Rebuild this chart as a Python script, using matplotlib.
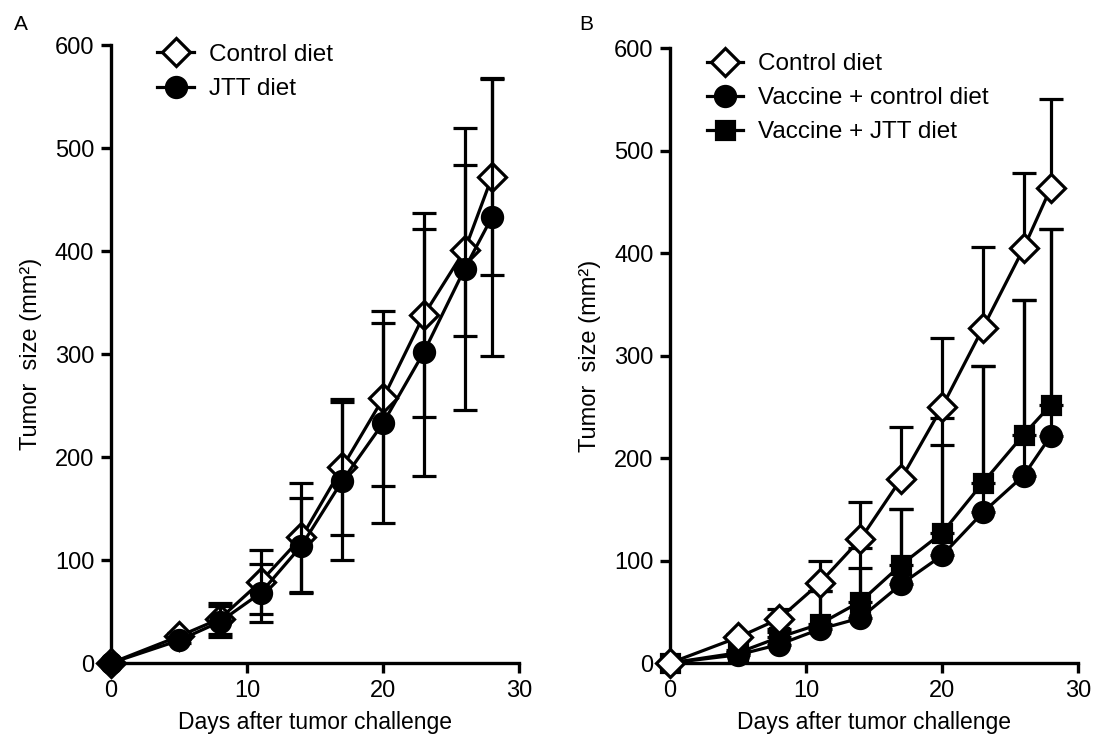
import numpy as np
import matplotlib
matplotlib.use('Agg')
import matplotlib.pyplot as plt
from matplotlib.lines import Line2D

plt.rcParams['font.family'] = ['Liberation Sans', 'DejaVu Sans']

days = [0, 5, 8, 11, 14, 17, 20, 23, 26, 28]

# panel A
a_control = [0, 26, 43, 79, 122, 190, 257, 338, 401, 472]
a_control_err = [0, 3, 15, 31, 53, 66, 85, 99, 83, 95]
a_jtt = [0, 22, 40, 68, 114, 177, 233, 302, 383, 433]
a_jtt_err = [0, 3, 15, 28, 46, 77, 97, 120, 137, 135]

# panel B (upper error only)
b_control = [0, 25, 43, 78, 121, 180, 250, 327, 405, 464]
b_control_err = [0, 3, 10, 22, 36, 50, 67, 79, 73, 86]
b_vac_control = [0, 8, 18, 33, 44, 77, 105, 147, 183, 222]
b_vac_control_err = [0, 3, 12, 37, 49, 73, 108, 143, 171, 202]
b_vac_jtt = [0, 10, 25, 38, 60, 96, 127, 176, 223, 252]
b_vac_jtt_err = [0, 3, 8, 32, 52, 54, 112, 114, 131, 172]

fig = plt.figure(figsize=(10.97, 7.38), dpi=100)
axA = fig.add_axes([0.1012, 0.1016, 0.372, 0.837])
axB = fig.add_axes([0.6108, 0.1016, 0.372, 0.833])

lw = 2.3
msize = {'D': 14, 'o': 14.5, 's': 13}


def draw(ax, y, err, marker, fill, upper_only=False, z=3):
    err = np.array(err)
    yerr = [np.zeros_like(err), err] if upper_only else err
    c = ax.errorbar(days, y, yerr=yerr, marker=marker, ms=msize[marker],
                    mfc=fill, mec='black', mew=lw, color='black', lw=lw,
                    elinewidth=lw, capthick=lw, capsize=8.5, zorder=z,
                    clip_on=False)
    for art in list(c.lines[1]) + list(c.lines[2]):
        art.set_clip_on(False)
    return c


def handle(marker, fill):
    return Line2D([], [], color='black', lw=lw, marker=marker,
                  ms=msize[marker], mfc=fill, mec='black', mew=lw)


draw(axA, a_control, a_control_err, 'D', 'white', z=3)
draw(axA, a_jtt, a_jtt_err, 'o', 'black', z=4)

draw(axB, b_vac_control, b_vac_control_err, 'o', 'black', upper_only=True, z=3)
draw(axB, b_vac_jtt, b_vac_jtt_err, 's', 'black', upper_only=True, z=4)
draw(axB, b_control, b_control_err, 'D', 'white', upper_only=True, z=5)

for ax in (axA, axB):
    ax.set_xlim(0, 30)
    ax.set_ylim(0, 600)
    ax.set_xticks([0, 10, 20, 30])
    ax.set_yticks([0, 100, 200, 300, 400, 500, 600])
    for s in ('top', 'right'):
        ax.spines[s].set_visible(False)
    for s in ('left', 'bottom'):
        ax.spines[s].set_linewidth(2.4)
    ax.tick_params(width=2.4, length=7, labelsize=17, pad=5, color='black')
    ax.set_xlabel('Days after tumor challenge', fontsize=16.5, labelpad=7)
    ax.set_ylabel('Tumor  size (mm²)', fontsize=17, labelpad=9)

leg_kw = dict(loc='upper left', frameon=False, fontsize=17.5, handlelength=1.5,
              handletextpad=0.6, labelspacing=0.5, borderaxespad=0)

axA.legend([handle('D', 'white'), handle('o', 'black')],
           ['Control diet', 'JTT diet'],
           bbox_to_anchor=(0.09, 1.018), **leg_kw)

axB.legend([handle('D', 'white'), handle('o', 'black'), handle('s', 'black')],
           ['Control diet', 'Vaccine + control diet', 'Vaccine + JTT diet'],
           bbox_to_anchor=(0.066, 1.008), **leg_kw)

fig.text(0.013, 0.96, 'A', fontsize=15)
fig.text(0.528, 0.96, 'B', fontsize=15)

fig.savefig('out.png', dpi=100)
